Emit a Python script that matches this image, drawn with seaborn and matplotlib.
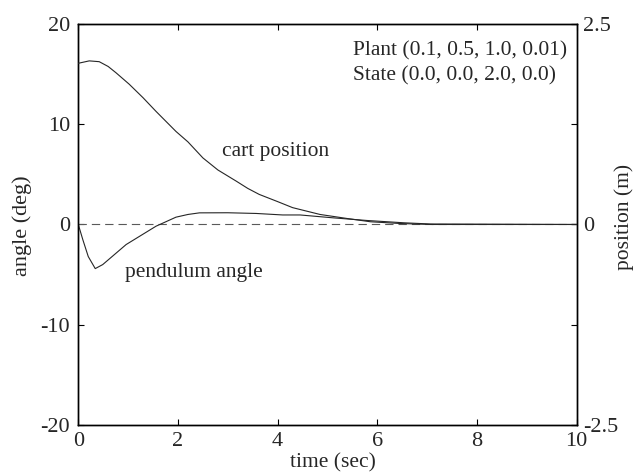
import matplotlib
matplotlib.use("Agg")
import matplotlib.pyplot as plt
import numpy as np
import pandas as pd
import seaborn as sns

# ---- data ----
t_pend = [0.0, 0.09, 0.20, 0.34, 0.49, 0.96, 1.56, 1.96, 2.20, 2.43, 3.00, 3.57,
          4.10, 4.45, 5.12, 5.79, 6.53, 7.06, 10.0]
pend_deg = [0.0, -1.5, -3.2, -4.4, -4.0, -2.0, -0.17, 0.73, 1.0, 1.16, 1.17, 1.1,
            0.95, 0.95, 0.66, 0.4, 0.17, 0.05, 0.0]

t_cart = [0.0, 0.22, 0.42, 0.60, 0.76, 1.02, 1.30, 1.56, 1.96, 2.20, 2.50, 2.80,
          3.17, 3.40, 3.63, 4.00, 4.30, 4.85, 5.39, 5.86, 6.46, 7.10, 10.0]
cart_m = [2.01, 2.04, 2.03, 1.97, 1.89, 1.75, 1.58, 1.41, 1.16, 1.03, 0.83, 0.68,
          0.54, 0.45, 0.375, 0.285, 0.21, 0.125, 0.075, 0.034, 0.012, 0.0, 0.0]

x_ticks = [0, 2, 4, 6, 8, 10]
left_ticks = [-20, -10, 0, 10, 20]
right_ticks = [-2.5, 0, 2.5]
right_tick_labels = ["-2.5", "0", "2.5"]

plant_text = "Plant (0.1, 0.5, 1.0, 0.01)"
state_text = "State (0.0, 0.0, 2.0, 0.0)"

# ---- style ----
sns.set_theme(style="white")
plt.rcParams["font.family"] = ["Liberation Serif", "DejaVu Serif"]
plt.rcParams["axes.unicode_minus"] = False

pend_df = pd.DataFrame({"time": t_pend, "angle": pend_deg})
cart_df = pd.DataFrame({"time": t_cart, "position": cart_m})

fig = plt.figure(figsize=(6.36, 4.75), dpi=100)
ax = fig.add_axes([0.1231, 0.1053, 0.7837, 0.8442])

ax.axhline(0, color="0.35", lw=0.8, ls=(0, (7.5, 4.5)), zorder=1)
sns.lineplot(data=pend_df, x="time", y="angle", ax=ax, color="0.15", lw=0.8,
             estimator=None, sort=False, zorder=3)

ax2 = ax.twinx()
sns.lineplot(data=cart_df, x="time", y="position", ax=ax2, color="0.15", lw=0.8,
             estimator=None, sort=False, zorder=3)

ax.set_xlim(0, 10)
ax.set_ylim(-20, 20)
ax2.set_ylim(-2.5, 2.5)
ax.set_xticks(x_ticks)
ax.set_xticklabels([str(v) for v in x_ticks])
ax.set_yticks(left_ticks)
ax.set_yticklabels([str(v) for v in left_ticks])
ax2.set_yticks(right_ticks)
ax2.set_yticklabels(right_tick_labels)

for a in (ax, ax2):
    for s in a.spines.values():
        s.set_color("black")
        s.set_linewidth(1.0)
        s.set_visible(True)

ax.tick_params(axis="both", direction="in", length=4.5, width=0.8, color="black",
               top=True, right=True, bottom=True, left=True, labelsize=16)
ax.tick_params(axis="y", pad=6)
ax.tick_params(axis="x", pad=5)
ax2.tick_params(axis="y", direction="in", length=4.5, width=0.8, color="black",
                labelsize=16, pad=4.8, right=True)

ax.set_xlabel("time (sec)", fontsize=15.5, va="center", ha="center")
ax.xaxis.set_label_coords(0.511, -0.0955)
ax.set_ylabel("angle (deg)", fontsize=16, va="center", ha="center")
ax.yaxis.set_label_coords(-0.1136, 0.497)
ax2.set_ylabel("position (m)", fontsize=15.5, va="center", ha="center", rotation=90)
ax2.yaxis.set_label_coords(1.095, 0.519)

ax.text(0.551, 0.933, plant_text, transform=ax.transAxes, ha="left", va="center",
        fontsize=15.5)
ax.text(0.551, 0.871, state_text, transform=ax.transAxes, ha="left", va="center",
        fontsize=15.5)
ax.text(0.2877, 0.681, "cart position", transform=ax.transAxes, ha="left",
        va="center", fontsize=15.5)
ax.text(0.0937, 0.381, "pendulum angle", transform=ax.transAxes, ha="left",
        va="center", fontsize=15.5)

fig.savefig("out.png", dpi=100)
